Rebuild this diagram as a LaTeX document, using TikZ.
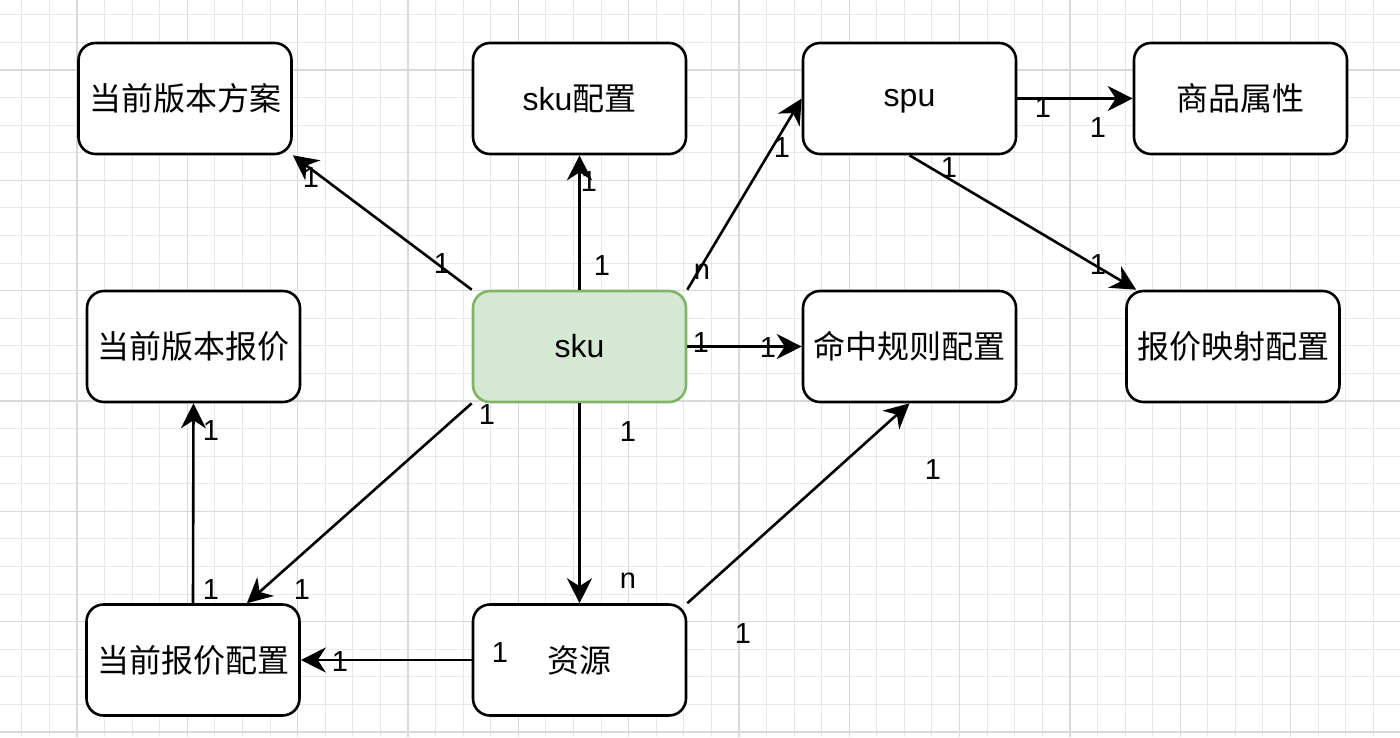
\documentclass[tikz,border=0pt]{standalone}
\usepackage{fontspec}
\setmainfont{Liberation Sans}
\newfontfamily\cjk{Noto Sans CJK SC}
\usetikzlibrary{arrows.meta,calc}
\definecolor{gminor}{HTML}{E8E8E8}
\definecolor{gmajor}{HTML}{D9D9D9}
\definecolor{skufill}{HTML}{D5E8D4}
\definecolor{skudraw}{HTML}{82B366}
\begin{document}
\begin{tikzpicture}[x=1pt,y=-1pt,
  box/.style={draw=black, line width=2.6pt, rounded corners=17pt, fill=white,
    minimum width=213pt, minimum height=111pt, inner sep=0pt,
    font=\fontsize{32}{38}\selectfont, align=center},
  skubox/.style={box, draw=skudraw, fill=skufill},
  conn/.style={line width=2.6pt, -{Stealth[length=25pt,width=25pt,inset=8pt]}},
  lbl/.style={font=\fontsize{29}{34}\selectfont, inner sep=0pt},
  gridminor/.style={draw=gminor, line width=1pt},
  gridmajor/.style={draw=gmajor, line width=1.3pt}]
\useasboundingbox (0,0) rectangle (1400,737);
\fill[white] (0,0) rectangle (1400,737);
% grid
\foreach \i in {-1,...,50} {\draw[gridminor] ({21.84+27.58*\i},0) -- ({21.84+27.58*\i},737);}
\foreach \i in {0,...,26} {\draw[gridminor] (0,{14.84+27.58*\i}) -- (1400,{14.84+27.58*\i});}
\foreach \k in {0,...,12} {\draw[gridmajor] ({77+110.32*\k},0) -- ({77+110.32*\k},737);}
\foreach \k in {0,...,6} {\draw[gridmajor] (0,{70+110.32*\k}) -- (1400,{70+110.32*\k});}

% nodes
\node[box] (fa)   at (185,98.5)   {\cjk 当前版本方案};
\node[box] (skuc) at (579.5,98.5) {sku\cjk 配置};
\node[box] (spu)  at (909.5,98.5) {\raisebox{-3pt}{spu\vphantom{k}}};
\node[box] (attr) at (1240.5,98.5) {\cjk 商品属性};
\node[box] (bj)   at (193.5,346.5) {\cjk 当前版本报价};
\node[skubox] (sku) at (579.5,346.5) {sku};
\node[box] (hit)  at (909.5,346.5) {\cjk 命中规则配置};
\node[box] (map)  at (1233,346.5) {\cjk 报价映射配置};
\node[box] (cur)  at (193,660) {\cjk 当前报价配置};
\node[box] (res)  at (579.5,660) {\cjk 资源};

\coordinate (curin) at ($(cur.north west)!0.75!(cur.north east)$);
\coordinate (mapin) at ($(map.north west)+(11,0)$);

% connectors
\draw[conn] (sku.north west) -- (fa.south east);
\draw[conn] (sku.north) -- (skuc.south);
\draw[conn] (sku.north east) -- (spu.west);
\draw[conn] (sku.east) -- (hit.west);
\draw[conn] (sku.south) -- (res.north);
\draw[conn] (sku.south west) -- (curin);
\draw[conn] (res.north east) -- (hit.south);
\draw[conn] (res.west) -- (cur.east);
\draw[conn] (cur.north) -- (bj.south);
\draw[conn] (spu.east) -- (attr.west);
\draw[conn] (spu.south) -- (mapin);

% labels
\node[lbl] (l1a) at (442,264) {1};
\node[lbl] (l1b) at (311,178) {1};
\node[lbl] (l2a) at (602,266) {1};
\node[lbl] (l2b) at (589,182) {1};
\node[lbl] (l3a) at (702,272) {n};
\node[lbl] (l3b) at (782,148) {1};
\node[lbl] (l4a) at (701,343) {1};
\node[lbl] (l4b) at (768,348) {1};
\node[lbl] (l5a) at (628,432) {1};
\node[lbl] (l5b) at (628,581) {n};
\node[lbl] (l6a) at (487,415) {1};
\node[lbl] (l6b) at (302,590) {1};
\node[lbl] (l7a) at (743,634) {1};
\node[lbl] (l7b) at (933,470) {1};
\node[lbl] (l8a) at (500,653) {1};
\node[lbl] (l8b) at (340,662) {1};
\node[lbl] (l9a) at (211,590) {1};
\node[lbl] (l9b) at (211,431) {1};
\node[lbl] (l10a) at (1043,108) {1};
\node[lbl] (l10b) at (1098,128) {1};
\node[lbl] (l11a) at (949,168) {1};
\node[lbl] (l11b) at (1098,265) {1};
\end{tikzpicture}
\end{document}
